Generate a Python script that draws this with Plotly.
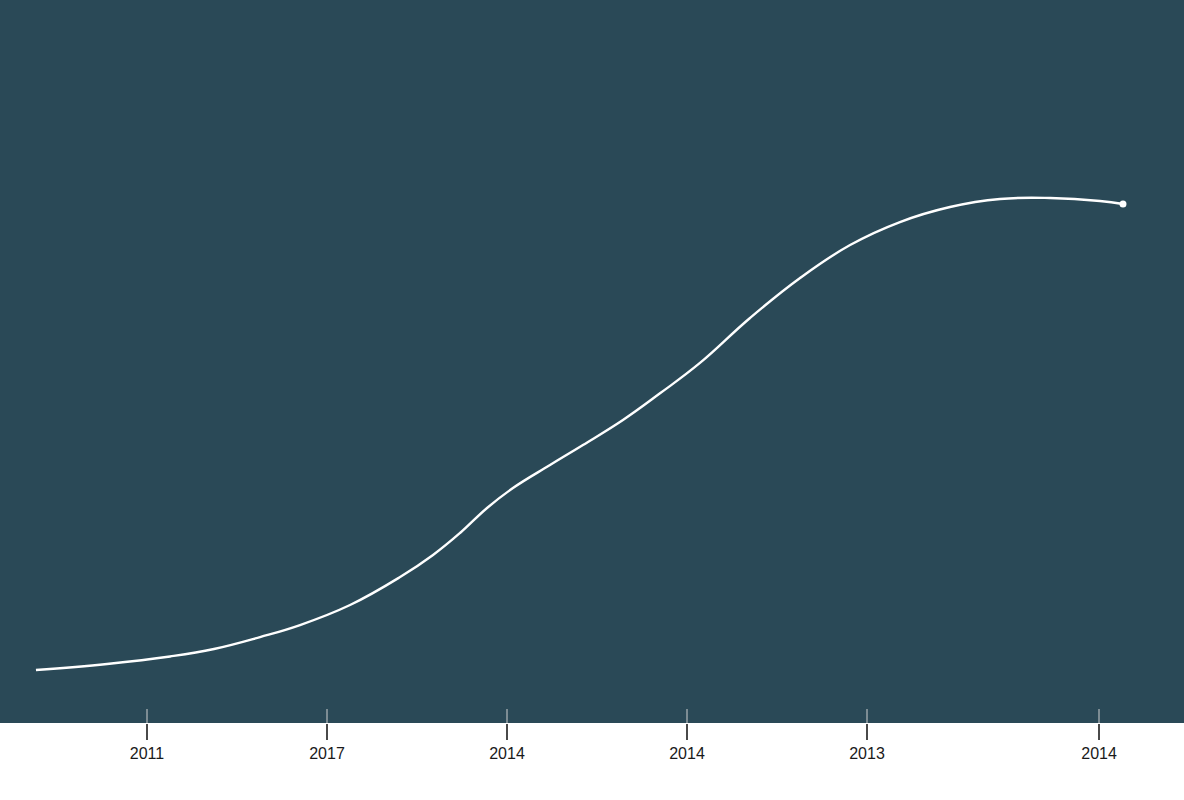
import plotly.graph_objects as go

# Curve (x in tick units, y in % of plot height)
x_vals = [0.383, 0.778, 1.128, 1.372, 1.628, 1.850, 2.128, 2.406, 2.589,
          2.739, 2.889, 3.033, 3.239, 3.422, 3.644, 3.850, 4.072, 4.350,
          4.628, 4.906, 5.183, 5.461, 5.739, 6.017, 6.294, 6.422]
y_vals = [7.33, 8.16, 9.20, 10.24, 11.89, 13.55, 16.32, 20.19, 23.24,
          26.28, 29.74, 32.50, 35.68, 38.45, 41.91, 45.60, 49.80, 56.02,
          61.55, 66.11, 69.29, 71.37, 72.48, 72.61, 72.20, 71.78]

tick_pos = [1, 2, 3, 4, 5, 6.289]
tick_labels = ["2011", "2017", "2014", "2014", "2013", "2014"]

x_range = [0.1833, 6.761]
bg = "#2a4957"

fig = go.Figure()
fig.add_trace(go.Scatter(
    x=x_vals, y=y_vals, mode="lines",
    line=dict(color="white", width=2.4, shape="spline", smoothing=1.2),
    hoverinfo="skip", showlegend=False,
))
# dot at the end of the line
fig.add_trace(go.Scatter(
    x=[x_vals[-1]], y=[y_vals[-1]], mode="markers",
    marker=dict(color="white", size=7),
    hoverinfo="skip", showlegend=False,
))
# invisible trace so the overlaying axis (inner tick part) gets drawn
fig.add_trace(go.Scatter(
    x=[x_vals[0]], y=[y_vals[0]], xaxis="x2", mode="markers",
    marker=dict(opacity=0), hoverinfo="skip", showlegend=False,
))

fig.update_layout(
    width=1184, height=800,
    margin=dict(l=0, r=0, t=0, b=77),
    paper_bgcolor="white",
    plot_bgcolor=bg,
    font=dict(family="Liberation Sans, Arial, sans-serif", size=16, color="#1a1a1a"),
    xaxis=dict(
        range=x_range, tickmode="array", tickvals=tick_pos, ticktext=tick_labels,
        ticks="outside", ticklen=16, tickwidth=1.5, tickcolor="#4a4a4a",
        showgrid=False, zeroline=False, showline=False,
    ),
    xaxis2=dict(
        range=x_range, overlaying="x", anchor="y", side="bottom",
        tickmode="array", tickvals=tick_pos, showticklabels=False,
        ticks="inside", ticklen=14, tickwidth=1.5, tickcolor="#7c8c93",
        showgrid=False, zeroline=False, showline=False,
    ),
    yaxis=dict(range=[0, 100], visible=False, showgrid=False, zeroline=False),
)

fig.write_html("out.html", config={"displayModeBar": False},
               post_script="document.body.style.margin='0';")
